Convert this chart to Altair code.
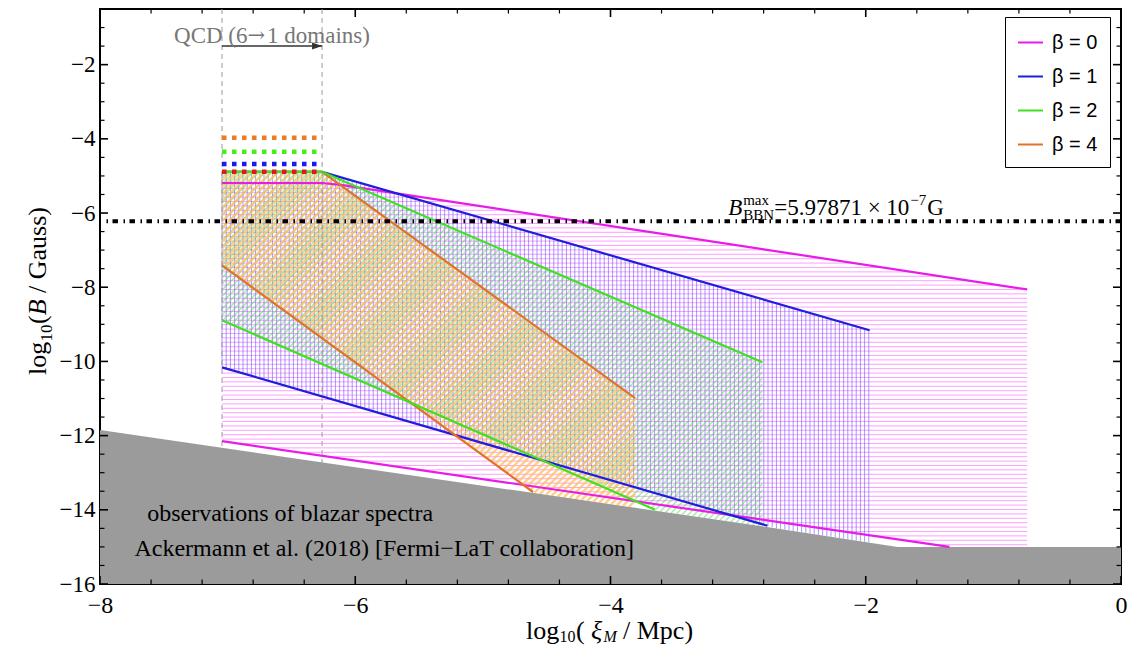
import numpy as np
import pandas as pd
import altair as alt

# ---------------- values ----------------
x_qcd = [-7.044, -6.26]                 # QCD window (6 -> 1 domains)
beta_labels = ["β = 0", "β = 1", "β = 2", "β = 4"]
beta_colors = ["#E81CE8", "#1E1EDC", "#40E020", "#E0722A"]

b0_up_x = [-7.044, -6.26, -6.10, -0.735]
b0_up_y = [-5.19, -5.19, -5.25, -8.06]
b0_lo_x = [-7.044, -1.344]
b0_lo_y = [-12.15, -15.00]

b1_up_x = [-7.044, -6.26, -1.97]
b1_up_y = [-4.89, -4.89, -9.16]
b1_lo_x = [-7.044, -2.77]
b1_lo_y = [-10.16, -14.43]

b2_up_x = [-7.044, -6.26, -2.81]
b2_up_y = [-4.89, -4.89, -10.02]
b2_lo_x = [-7.044, -3.65]
b2_lo_y = [-8.89, -14.00]

b4_up_x = [-7.044, -6.26, -3.807]
b4_up_y = [-4.89, -4.89, -10.99]
b4_lo_x = [-7.044, -4.607]
b4_lo_y = [-7.41, -13.52]

blazar_x = [-8.0, -4.6, -2.8, -1.75, 0.0]
blazar_y = [-11.85, -13.55, -14.45, -15.0, -15.0]

qcd_dot_y = [-3.97, -4.35, -4.68, -4.89]
qcd_dot_colors = ["#F07A22", "#48EE18", "#1A1AF0", "#E01818"]

bbn_gauss = 5.97871e-7
arrow_y = -1.5

x_major = [-8, -6, -4, -2, 0]
y_major = [-16, -14, -12, -10, -8, -6, -4, -2]

# ---------------- layout / style ----------------
W, H = 1021, 575
X0, X1, Y0, Y1 = -8.0, 0.0, -16.0, -0.5
KX = W / (X1 - X0)
KY = H / (Y1 - Y0)
SERIF = "Liberation Serif"
SANS = "Liberation Sans"

xsc = alt.Scale(domain=[X0, X1], nice=False, zero=False)
ysc = alt.Scale(domain=[Y0, Y1], nice=False, zero=False)
ax_x = alt.Axis(values=x_major, format="d", title=None, ticks=False, domain=False,
                grid=False, labelFont=SERIF, labelFontSize=24, labelPadding=9,
                labelColor="black", labelFlush=False, labelOverlap=False)
ax_y = alt.Axis(values=y_major, format="d", title=None, ticks=False, domain=False,
                grid=False, labelFont=SERIF, labelFontSize=23, labelPadding=5,
                labelColor="black", labelFlush=False, labelOverlap=False)


def XQ(f="x"):
    return alt.X(f + ":Q", scale=xsc, axis=ax_x)


def YQ(f="y"):
    return alt.Y(f + ":Q", scale=ysc, axis=ax_y)


# ---------------- hatch construction from the band boundaries ----------------
def line_through(xs, px, py):
    s = (py[1] - py[0]) / (px[1] - px[0])
    return py[0] + s * (np.asarray(xs) - px[0])


def band(ux, uy, lx, ly, n=4000):
    xs = np.linspace(ux[0], ux[-1], n)
    top = np.interp(xs, ux, uy)
    bot = np.maximum(line_through(xs, lx, ly), np.interp(xs, blazar_x, blazar_y))
    return xs, top, bot


def runs(mask):
    m = np.concatenate([[0], mask.astype(np.int8), [0]])
    d = np.diff(m)
    return zip(np.flatnonzero(d == 1), np.flatnonzero(d == -1) - 1)


def hatch_h(b, step_px):
    xs, top, bot = b
    segs = []
    for y in np.arange(bot.min() + 0.5 * step_px / KY, top.max(), step_px / KY):
        for i, j in runs((bot <= y) & (y <= top)):
            if j > i:
                segs.append((xs[i], y, xs[j], y))
    return pd.DataFrame(segs, columns=["x", "y", "x2", "y2"])


def hatch_v(b, step_px):
    xs, top, bot = b
    segs = []
    for x in np.arange(xs[0], xs[-1], step_px / KX):
        t = np.interp(x, xs, top)
        bb = np.interp(x, xs, bot)
        if t > bb:
            segs.append((x, bb, x, t))
    return pd.DataFrame(segs, columns=["x", "y", "x2", "y2"])


def hatch_d(b, step_px, phase=0.0):
    xs, top, bot = b
    u = (xs - X0) * KX
    ct = u + (Y1 - top) * KY
    cb = u + (Y1 - bot) * KY
    segs = []
    for c in np.arange(ct.min() + phase, cb.max(), step_px * np.sqrt(2)):
        yl = Y1 - (c - u) / KY
        for i, j in runs((bot <= yl) & (yl <= top)):
            if j > i:
                segs.append((xs[i], yl[i], xs[j], yl[j]))
    return pd.DataFrame(segs, columns=["x", "y", "x2", "y2"])


band0 = band(b0_up_x, b0_up_y, b0_lo_x, b0_lo_y)
band1 = band(b1_up_x, b1_up_y, b1_lo_x, b1_lo_y)
band2 = band(b2_up_x, b2_up_y, b2_lo_x, b2_lo_y)
band4 = band(b4_up_x, b4_up_y, b4_lo_x, b4_lo_y)


def hatch_layer(df, color, width, opacity):
    return alt.Chart(df).mark_rule(color=color, strokeWidth=width, opacity=opacity).encode(
        x=XQ("x"), y=YQ("y"), x2="x2:Q", y2="y2:Q")


layers = []
layers.append(hatch_layer(hatch_h(band0, 4.4), "#FF50FF", 1, 0.55))
layers.append(hatch_layer(hatch_v(band1, 4.2), "#6A5CFF", 1, 0.62))
layers.append(hatch_layer(hatch_d(band2, 4.4), "#5ADC5A", 1.4, 0.55))
layers.append(hatch_layer(hatch_d(band4, 4.8, 2.0), "#FFC25E", 2.4, 0.75))

# blazar exclusion region
blz = pd.DataFrame({"x": blazar_x, "y": blazar_y})
layers.append(alt.Chart(blz).mark_area(color="#9B9B9B", opacity=1).encode(
    x=XQ(), y=YQ(), y2=alt.datum(Y0)))

# QCD window edges
layers.append(alt.Chart(pd.DataFrame({"x": x_qcd})).mark_rule(
    color="#9A9A9A", strokeWidth=1, strokeDash=[5, 4]).encode(x=XQ()))

# band boundary lines (drawing order: 0, 1, 4, 2 so the green top edge shows in the QCD window)
bands = {
    "β = 0": ((b0_up_x, b0_up_y), (b0_lo_x, b0_lo_y)),
    "β = 1": ((b1_up_x, b1_up_y), (b1_lo_x, b1_lo_y)),
    "β = 2": ((b2_up_x, b2_up_y), (b2_lo_x, b2_lo_y)),
    "β = 4": ((b4_up_x, b4_up_y), (b4_lo_x, b4_lo_y)),
}
rows = []
for gi, lab in enumerate(["β = 0", "β = 1", "β = 4", "β = 2"]):
    for pname, (px, py) in zip(["upper", "lower"], bands[lab]):
        for k, (a, b) in enumerate(zip(px, py)):
            rows.append({"beta": lab, "part": f"{gi}{pname}", "ord": k, "x": a, "y": b})
lines_df = pd.DataFrame(rows)
layers.append(alt.Chart(lines_df).mark_line(strokeWidth=2.2).encode(
    x=XQ(), y=YQ(),
    color=alt.Color("beta:N", scale=alt.Scale(domain=beta_labels, range=beta_colors),
                    legend=alt.Legend(title=None, orient="none", legendX=905, legendY=8,
                                      direction="vertical", symbolType="stroke",
                                      symbolSize=625, symbolStrokeWidth=2,
                                      labelFont=SANS, labelFontSize=20, labelOffset=8,
                                      labelColor="black", rowPadding=10, padding=12,
                                      fillColor="white", strokeColor="black")),
    detail="part:N", order="ord:Q"))

# QCD dotted levels
for yv, col in zip(qcd_dot_y, qcd_dot_colors):
    d = pd.DataFrame({"x": [x_qcd[0]], "x2": [x_qcd[1]], "y": [yv]})
    layers.append(alt.Chart(d).mark_rule(color=col, strokeWidth=4.5, strokeDash=[4.5, 5.5]).encode(
        x=XQ(), x2="x2:Q", y=YQ()))

# BBN bound
bbn_df = pd.DataFrame({"y": [np.log10(bbn_gauss)]})
layers.append(alt.Chart(bbn_df).mark_rule(color="black", strokeWidth=4,
                                          strokeDash=[5.5, 4.5, 1.5, 5.5]).encode(y=YQ()))

# QCD arrow
arr = pd.DataFrame({"x": x_qcd, "y": [arrow_y, arrow_y]})
layers.append(alt.Chart(arr).mark_line(color="#333333", strokeWidth=1.5).encode(x=XQ(), y=YQ()))
layers.append(alt.Chart(arr.iloc[[1]]).mark_point(
    shape="M0,0L-1,-0.35L-1,0.35Z", filled=True, size=400, color="#333333", opacity=1).encode(
    x=XQ(), y=YQ()))


def dtext(text, x, y, size=23, style="normal", color="black", align="left",
          baseline="alphabetic", dx=0, dy=0, font=SERIF):
    d = pd.DataFrame({"t": [text], "x": [x], "y": [y]})
    return alt.Chart(d).mark_text(font=font, fontSize=size, fontStyle=style, color=color,
                                  align=align, baseline=baseline, dx=dx, dy=dy).encode(
        x=XQ(), y=YQ(), text="t:N")


def ptext(text, px, py, size=26, style="normal", dx=0, dy=0, angle=0, baseline="alphabetic"):
    d = pd.DataFrame({"t": [text]})
    return alt.Chart(d).mark_text(font=SERIF, fontSize=size, fontStyle=style, color="black",
                                  align="left", baseline=baseline, dx=dx, dy=dy,
                                  angle=angle).encode(
        x=alt.value(px), y=alt.value(py), text="t:N")


# "QCD (6→1 domains)" centred on the QCD window (arrow glyph from a font that has it)
qx, qy = float(np.mean(x_qcd)), -1.22
layers.append(dtext("QCD (6", qx, qy, color="#777777", baseline="middle", dx=-98))
layers.append(dtext("→", qx, qy, color="#777777", baseline="middle", dx=-24.5,
                    font="DejaVu Serif", size=21))
layers.append(dtext("1 domains)", qx, qy, color="#777777", baseline="middle", dx=-5))

layers.append(dtext("observations of blazar spectra", -7.63, -14.12, size=24, baseline="middle"))
layers.append(dtext("Ackermann et al. (2018) [Fermi−LaT collaboration]", -7.73, -15.05,
                    size=24, baseline="middle"))

# BBN label  B^max_BBN = 5.97871 x 10^-7 G
bx, by = -3.078, -6.04
layers.append(dtext("B", bx, by, style="italic"))
layers.append(dtext("max", bx, by, size=15, dx=15, dy=-10))
layers.append(dtext("BBN", bx, by, size=15, dx=15, dy=5))
layers.append(dtext("=5.97871 × 10", bx, by, dx=46))
layers.append(dtext("−7", bx, by, size=15, dx=182, dy=-10))
layers.append(dtext("G", bx, by, dx=199))

# inward frame ticks
x_minor = [v for v in np.round(np.arange(X0, X1 + 1e-9, 0.4), 2) if v not in x_major]
y_minor = [v for v in np.round(np.arange(Y0, Y1 + 1e-9, 0.5), 2) if v not in y_major]
for vals, ln, sw in [(x_major, 8, 1.6), (x_minor, 4.5, 1.2)]:
    d = pd.DataFrame({"x": vals})
    layers.append(alt.Chart(d).mark_rule(color="black", strokeWidth=sw).encode(
        x=XQ(), y=alt.value(H), y2=alt.value(H - ln)))
    layers.append(alt.Chart(d).mark_rule(color="black", strokeWidth=sw).encode(
        x=XQ(), y=alt.value(0), y2=alt.value(ln)))
for vals, ln, sw in [(y_major, 8, 1.6), (y_minor, 4.5, 1.2)]:
    d = pd.DataFrame({"y": vals})
    layers.append(alt.Chart(d).mark_rule(color="black", strokeWidth=sw).encode(
        y=YQ(), x=alt.value(0), x2=alt.value(ln)))
    layers.append(alt.Chart(d).mark_rule(color="black", strokeWidth=sw).encode(
        y=YQ(), x=alt.value(W), x2=alt.value(W - ln)))

# axis titles (composed so sub-scripts / italics can be shown)
ty = 630
tx0 = 426
layers.append(ptext("log", tx0, ty))
layers.append(ptext("10", tx0 + 33.5, ty, size=16, dy=3))
layers.append(ptext("(", tx0 + 50, ty))
layers.append(ptext("ξ", tx0 + 65, ty, style="italic"))
layers.append(ptext("M", tx0 + 77.5, ty, size=16, style="italic", dy=3))
layers.append(ptext("/ Mpc)", tx0 + 97, ty))

yx = -54
yy0 = 366
layers.append(ptext("log", yx, yy0, angle=270))
layers.append(ptext("10", yx, yy0, size=17, angle=270, dx=33.5, dy=6))
layers.append(ptext("(", yx, yy0, angle=270, dx=51))
layers.append(ptext("B", yx, yy0, style="italic", angle=270, dx=59.7))
layers.append(ptext("/ Gauss)", yx, yy0, angle=270, dx=82))

chart = alt.layer(*layers).properties(
    width=W, height=H,
    padding={"left": 100, "top": 9, "right": 24, "bottom": 63},
    autosize=alt.AutoSizeParams(type="none"),
).configure_view(stroke="black", strokeWidth=2)

chart.save("out.html", embed_options={"renderer": "svg", "actions": False})
